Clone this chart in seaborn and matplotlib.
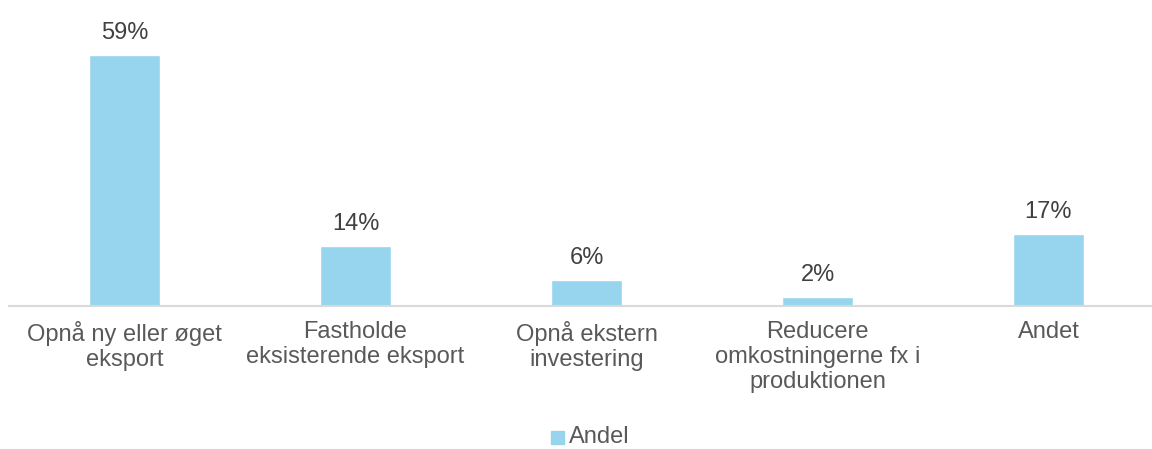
import matplotlib
matplotlib.use("Agg")
import matplotlib.pyplot as plt
import seaborn as sns
import pandas as pd

categories = [
    "Opnå ny eller øget\neksport",
    "Fastholde\neksisterende eksport",
    "Opnå ekstern\ninvestering",
    "Reducere\nomkostningerne fx i\nproduktionen",
    "Andet",
]
shares = [59, 14, 6, 2, 17]
series_name = "Andel"

df = pd.DataFrame({"Kategori": categories, "Andel": shares, "Serie": series_name})

sns.set_theme(style="white")
plt.rcParams["font.family"] = ["Liberation Sans", "DejaVu Sans"]

W, H = 1152, 449
fig = plt.figure(figsize=(W / 100, H / 100), dpi=100)
px_per_pct = 251 / 59
base_y = 306
ax = fig.add_axes([9 / W, 1 - base_y / H, 1155 / W, base_y / H])

bar_color = "#97D5EF"
fs = 17
sns.barplot(data=df, x="Kategori", y="Andel", hue="Serie", palette=[bar_color],
            width=0.31, ax=ax, legend=False, saturation=1)

ax.set_ylim(0, base_y / px_per_pct)
ax.set_xlim(-0.5, len(categories) - 0.5)
ax.set_xlabel("")
ax.set_ylabel("")
ax.set_yticks([])
for side in ["top", "right", "left"]:
    ax.spines[side].set_visible(False)
ax.spines["bottom"].set_color("#D9D9D9")
ax.spines["bottom"].set_linewidth(1.5)
ax.tick_params(axis="x", length=0, pad=11, labelsize=fs, labelcolor="#595959")
for lbl in ax.get_xticklabels():
    lbl.set_linespacing(1.17)

for i, v in enumerate(shares):
    ax.annotate(f"{v}%", (i, v), xytext=(0, 8), textcoords="offset points",
                ha="center", va="bottom", fontsize=fs, color="#404040")

# legend
fig.patches.append(plt.Rectangle((551 / W, 1 - 444 / H), 13 / W, 13 / H,
                                 transform=fig.transFigure, color=bar_color))
fig.text(569 / W, 1 - 443 / H, series_name, ha="left", va="baseline",
         fontsize=fs, color="#595959")

fig.savefig("out.png", dpi=100, facecolor="white")
